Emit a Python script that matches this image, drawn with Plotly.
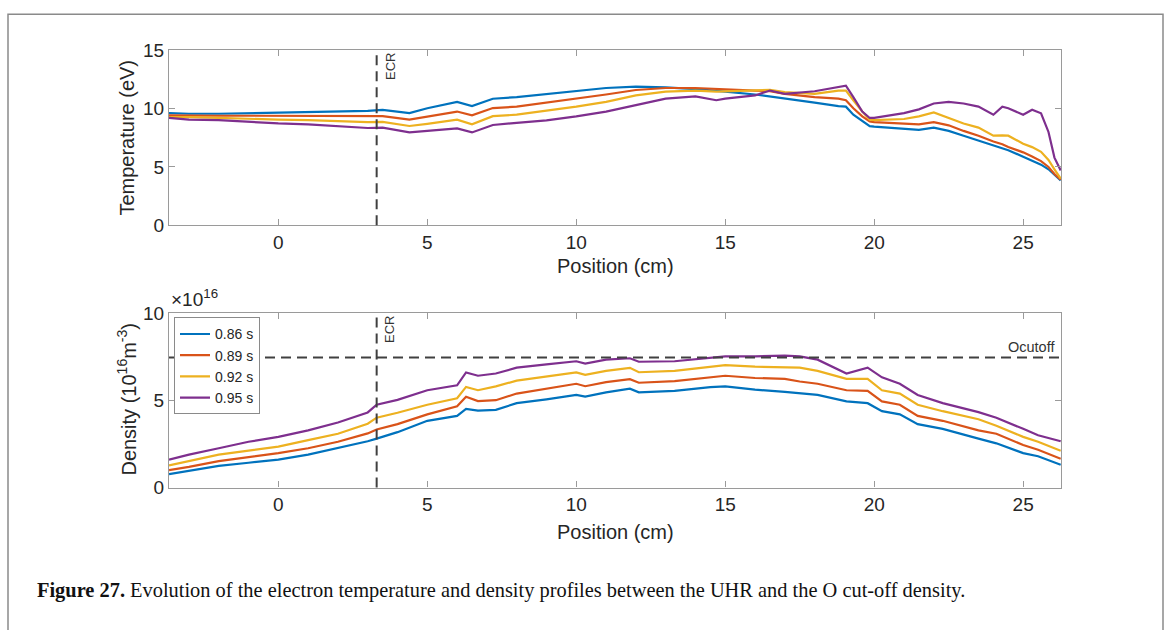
import plotly.graph_objects as go

W, H = 1170, 630

# ---------------- data ----------------
series_names = ["0.86 s", "0.89 s", "0.92 s", "0.95 s"]
series_colors = ["#0072BD", "#D95319", "#EDB120", "#7E2F8E"]

pos_T = [-3.67, -3, -2, -1, 0, 1, 2, 3, 3.5, 4.4, 5, 6, 6.5, 7.2, 8, 9, 10, 11, 12, 13,
         14, 14.7, 15, 16, 16.5, 17, 18, 18.8, 19.05, 19.3, 19.6, 19.85, 20, 21, 21.5,
         22, 22.5, 23, 23.5, 24, 24.3, 24.5, 25, 25.3, 25.6, 25.85, 26.05, 26.26]

temp_086 = [9.61, 9.56, 9.56, 9.61, 9.67, 9.67, 9.72, 9.80, 9.89, 9.61, 10.03, 10.58, 10.22,
            10.85, 10.99, 11.25, 11.55, 11.77, 11.88, 11.82, 11.68, 11.55, 11.46, 11.21,
            11.05, 10.86, 10.52, 10.22, 10.17, 9.48, 8.92, 8.50, 8.45, 8.29, 8.18, 8.37,
            8.09, 7.68, 7.27, 6.85, 6.65, 6.44, 5.88, 5.55, 5.20, 4.80, 4.30, 3.85]
temp_089 = [9.42, 9.39, 9.39, 9.39, 9.39, 9.34, 9.39, 9.34, 9.36, 9.06, 9.34, 9.75, 9.42,
            10.05, 10.17, 10.50, 10.86, 11.21, 11.60, 11.77, 11.77, 11.71, 11.68, 11.55,
            11.49, 11.27, 10.99, 10.86, 10.72, 10.03, 9.34, 8.90, 8.84, 8.73, 8.65, 8.84,
            8.57, 8.09, 7.68, 7.18, 6.95, 6.71, 6.25, 5.90, 5.50, 5.00, 4.40, 3.90]
temp_092 = [9.28, 9.28, 9.20, 9.11, 9.06, 9.01, 8.92, 8.84, 8.86, 8.51, 8.70, 9.06, 8.65,
            9.35, 9.48, 9.80, 10.17, 10.58, 11.13, 11.46, 11.55, 11.46, 11.49, 11.55,
            11.60, 11.41, 11.27, 11.55, 11.55, 10.72, 9.75, 9.06, 9.01, 9.11, 9.34, 9.67,
            9.20, 8.73, 8.37, 7.68, 7.70, 7.68, 6.99, 6.70, 6.30, 5.60, 4.80, 4.00]
temp_095 = [9.20, 9.06, 9.01, 8.84, 8.73, 8.65, 8.51, 8.34, 8.37, 7.96, 8.09, 8.30, 7.96,
            8.60, 8.78, 9.00, 9.34, 9.75, 10.30, 10.86, 11.05, 10.72, 10.86, 11.13, 11.55,
            11.27, 11.49, 11.88, 11.96, 10.99, 9.75, 9.20, 9.20, 9.61, 9.94, 10.44, 10.58,
            10.44, 10.17, 9.48, 10.17, 10.03, 9.48, 9.90, 9.60, 8.00, 5.80, 4.70]

pos_N = [-3.67, -3, -2, -1, 0, 1, 2, 3, 3.3, 4, 5, 6, 6.3, 6.7, 7.3, 8, 9, 10, 10.3, 11,
         11.8, 12.1, 13.3, 14.5, 15, 16, 17, 17.5, 18.1, 19.07, 19.78, 20.26, 20.86, 21.46,
         22.3, 23.5, 24.1, 25, 25.5, 26.26]

dens_086 = [0.77, 0.96, 1.24, 1.42, 1.60, 1.88, 2.25, 2.65, 2.80, 3.17, 3.82, 4.10, 4.50,
            4.40, 4.45, 4.83, 5.05, 5.30, 5.20, 5.45, 5.66, 5.45, 5.53, 5.75, 5.79, 5.60,
            5.48, 5.38, 5.30, 4.93, 4.83, 4.37, 4.19, 3.63, 3.36, 2.80, 2.53, 1.97, 1.79, 1.30]
dens_089 = [1.00, 1.18, 1.51, 1.73, 1.97, 2.25, 2.62, 3.10, 3.32, 3.63, 4.19, 4.65, 5.20,
            4.95, 5.00, 5.38, 5.65, 5.94, 5.80, 6.03, 6.20, 6.00, 6.09, 6.31, 6.40, 6.27,
            6.22, 6.07, 5.94, 5.57, 5.53, 4.93, 4.74, 4.10, 3.82, 3.27, 3.08, 2.43, 2.16, 1.65]
dens_092 = [1.27, 1.51, 1.88, 2.11, 2.34, 2.71, 3.08, 3.65, 4.00, 4.28, 4.74, 5.11, 5.76,
            5.57, 5.79, 6.12, 6.35, 6.59, 6.45, 6.68, 6.85, 6.60, 6.68, 6.92, 7.01, 6.92,
            6.90, 6.86, 6.68, 6.22, 6.22, 5.57, 5.38, 4.74, 4.37, 3.91, 3.54, 2.90, 2.62, 2.10]
dens_095 = [1.60, 1.88, 2.25, 2.62, 2.90, 3.27, 3.72, 4.30, 4.74, 5.02, 5.57, 5.85, 6.59,
            6.40, 6.53, 6.86, 7.05, 7.23, 7.10, 7.32, 7.40, 7.20, 7.23, 7.45, 7.51, 7.51,
            7.55, 7.51, 7.32, 6.53, 6.86, 6.31, 5.94, 5.30, 4.83, 4.32, 4.00, 3.36, 2.99, 2.65]

ecr_position = 3.3          # cm
o_cutoff_density = 7.45     # x1e16 m^-3

x_ticks = [0, 5, 10, 15, 20, 25]
temp_ticks = [0, 5, 10, 15]
dens_ticks = [0, 5, 10]
x_range = [-3.67, 26.27]

# ---------------- helpers ----------------
def px(x):
    return x / W

def py(y):
    return 1 - y / H

fig = go.Figure()

temps = [temp_086, temp_089, temp_092, temp_095]
dens = [dens_086, dens_089, dens_092, dens_095]
for name, col, t in zip(series_names, series_colors, temps):
    fig.add_trace(go.Scatter(x=pos_T, y=t, mode="lines", name=name,
                             line=dict(color=col, width=2.2), showlegend=False,
                             xaxis="x", yaxis="y"))
for name, col, d in zip(series_names, series_colors, dens):
    fig.add_trace(go.Scatter(x=pos_N, y=d, mode="lines", name=name,
                             line=dict(color=col, width=2.2), showlegend=True,
                             xaxis="x2", yaxis="y2"))

axis_line = "#9a9a9a"
tick_font = dict(family="Liberation Sans, Arial", size=19, color="#262626")
common_x = dict(range=x_range, tickvals=x_ticks, showline=True, linecolor=axis_line,
                linewidth=1.2, mirror="ticks", ticks="inside", ticklen=6,
                tickcolor=axis_line, showgrid=False, zeroline=False, tickfont=tick_font,
                domain=[px(169), px(1061)])
common_y = dict(showline=True, linecolor=axis_line, linewidth=1.2, mirror="ticks",
                ticks="inside", ticklen=6, tickcolor=axis_line, showgrid=False,
                zeroline=False, tickfont=tick_font)

fig.update_layout(
    width=W, height=H, margin=dict(l=0, r=0, t=0, b=0),
    paper_bgcolor="white", plot_bgcolor="white",
    xaxis=dict(**common_x, anchor="y"),
    yaxis=dict(**common_y, range=[0, 15], tickvals=temp_ticks,
               domain=[py(222.7), py(41.7)], anchor="x"),
    xaxis2=dict(**common_x, anchor="y2"),
    yaxis2=dict(**common_y, range=[0, 10], tickvals=dens_ticks,
                domain=[py(494), py(313.3)], anchor="x2"),
    legend=dict(x=px(174), y=py(318), xanchor="left", yanchor="top",
                bordercolor="#8a8a8a", borderwidth=1, bgcolor="white",
                font=dict(family="Liberation Sans, Arial", size=14, color="#262626"),
                itemwidth=30, tracegroupgap=0),
)

# reference lines
dash_style = dict(color="#404040", width=2, dash="10px,6px")
fig.add_shape(type="line", xref="x", yref="y domain", x0=ecr_position, x1=ecr_position,
              y0=0, y1=1, line=dash_style)
fig.add_shape(type="line", xref="x2", yref="y2 domain", x0=ecr_position, x1=ecr_position,
              y0=0, y1=1, line=dash_style)
fig.add_shape(type="line", xref="x2 domain", yref="y2", x0=0, x1=1,
              y0=o_cutoff_density, y1=o_cutoff_density, line=dash_style)

# outer frame
fig.add_shape(type="rect", xref="paper", yref="paper", x0=px(8), x1=px(1163),
              y0=-0.2, y1=py(4.3), line=dict(color="#8a8a8a", width=1.5))

lab_font = dict(family="Liberation Sans, Arial", size=20, color="#262626")
small_font = dict(family="Liberation Sans, Arial", size=13, color="#333333")
ann = [
    dict(text="Temperature (eV)", x=px(127), y=py(132), textangle=-90, font=lab_font),
    dict(text="Density (10<sup>16</sup>m<sup>-3</sup>)", x=px(127), y=py(403),
         textangle=-90, font=lab_font),
    dict(text="Position (cm)", x=px(615), y=py(265), font=lab_font),
    dict(text="Position (cm)", x=px(615), y=py(540), font=lab_font),
    dict(text="ECR", x=px(390), y=py(59), textangle=-90, font=small_font),
    dict(text="ECR", x=px(390), y=py(331), textangle=-90, font=small_font),
    dict(text="Ocutoff", x=px(1057), y=py(349), xanchor="right",
         font=dict(family="Liberation Sans, Arial", size=14.5, color="#333333")),
    dict(text="×10<sup>16</sup>", x=px(169), y=py(298), xanchor="left",
         font=dict(family="Liberation Sans, Arial", size=19, color="#262626")),
    dict(text="<b>Figure 27.</b> Evolution of the electron temperature and density profiles "
              "between the UHR and the O cut-off density.",
         x=px(35), y=py(600), xanchor="left",
         font=dict(family="Liberation Serif, Times New Roman", size=20.4, color="#111111")),
]
for a in ann:
    a.setdefault("xanchor", "center")
    fig.add_annotation(xref="paper", yref="paper", showarrow=False, yanchor="middle", **a)

fig.write_html("out.html")
